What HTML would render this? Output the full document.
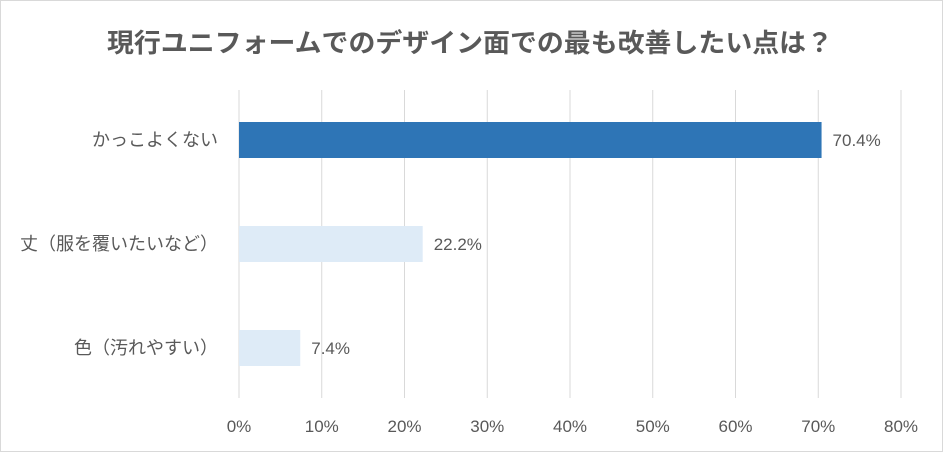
<!DOCTYPE html>
<html><head><meta charset="utf-8">
<style>
html,body{margin:0;padding:0;background:#fff;}
svg{display:block;font-family:"Liberation Sans","Noto Sans CJK JP",sans-serif;}
</style></head>
<body>
<svg id="chart" width="943" height="452">
<rect x="0.5" y="0.5" width="942" height="451" fill="#fff" stroke="#d9d9d9"/>
<text x="107" y="52" font-size="26" font-weight="bold" fill="#595959" textLength="726" lengthAdjust="spacingAndGlyphs">現行ユニフォームでのデザイン面での最も改善したい点は？</text>
<g id="grid"></g><g id="bars"></g><g id="labels"></g>
</svg>
<script>
const categories=["かっこよくない","丈（服を覆いたいなど）","色（汚れやすい）"];
const values=[70.4,22.2,7.4];
const ticks=[0,10,20,30,40,50,60,70,80];
const x0=239,x1=901,xmax=80,plotTop=90,plotBot=398,centers0=140,step=104,bh=36;
const ns="http://www.w3.org/2000/svg";
const xs=v=>x0+(x1-x0)*v/xmax;
const ys=i=>centers0+i*step;
const grid=document.getElementById('grid'),bars=document.getElementById('bars'),labels=document.getElementById('labels');
function mk(tag,attrs,parent,text){const e=document.createElementNS(ns,tag);for(const k in attrs)e.setAttribute(k,attrs[k]);if(text!==undefined)e.textContent=text;parent.appendChild(e);return e;}
ticks.forEach(t=>{
  const l=mk('line',{x1:xs(t),x2:xs(t),y1:plotTop,y2:plotBot,stroke:'#d9d9d9','stroke-width':1},grid);
  
  
  const tx=mk('text',{x:xs(t),y:432,'text-anchor':'middle','font-size':17,fill:'#595959'},labels,t+'%');
  
  
});
values.forEach((v,i)=>{
  const r=mk('rect',{x:xs(0),y:ys(i)-bh/2,width:xs(v)-xs(0),height:bh,fill:i===0?'#2E75B6':'#DEEBF7'},bars);
  
  
  const vl=mk('text',{x:xs(v)+11,y:ys(i)+6,'font-size':17,fill:'#595959'},labels,v.toFixed(1)+'%');
  
  
  const cl=mk('text',{x:218,y:ys(i)+6,'text-anchor':'end','font-size':18,fill:'#595959'},labels,categories[i]);
  
  
});
</script>
</body></html>
